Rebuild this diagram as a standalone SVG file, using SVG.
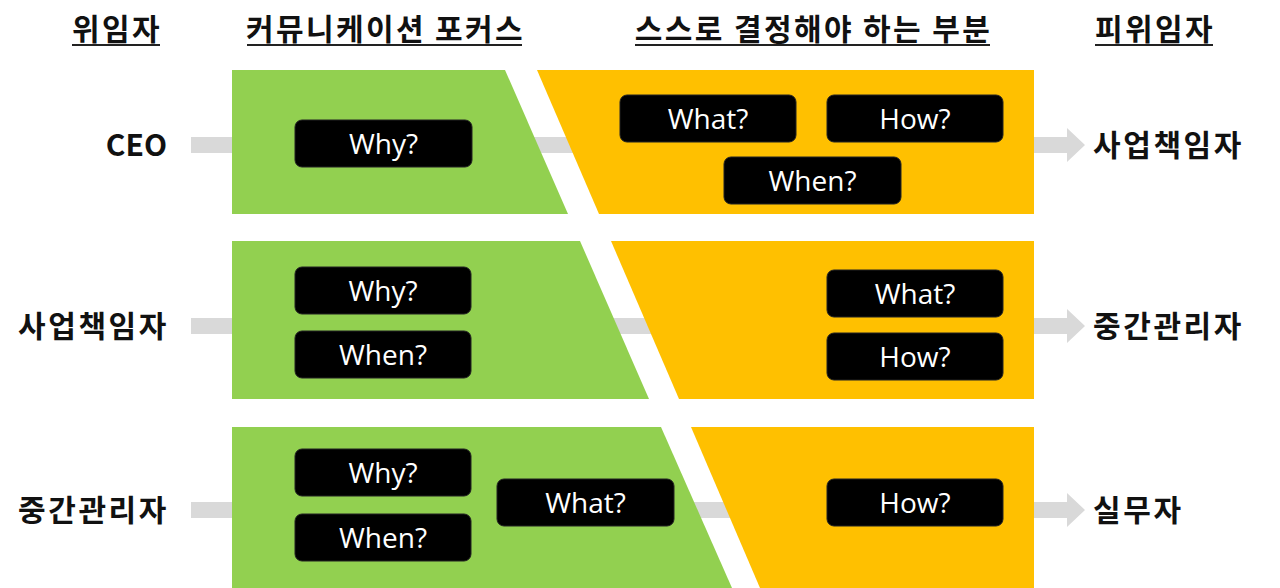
<svg xmlns="http://www.w3.org/2000/svg" width="1280" height="588" viewBox="0 0 1280 588">
<style>
.hd{font-family:"Noto Sans CJK KR","Noto Sans",sans-serif;font-weight:bold;font-size:30px;letter-spacing:2.4px;fill:#111;text-anchor:middle}
.ul{stroke:#222;stroke-width:2}
.lb{font-family:"Noto Sans CJK KR","Noto Sans",sans-serif;font-weight:bold;font-size:30px;fill:#111}
.k{letter-spacing:2.6px}
.l{text-anchor:end}
.g{fill:#92D050}
.o{fill:#FFC000}
.bx{fill:#000;stroke:#222;stroke-width:1}
.bt{font-family:"Open Sans","Noto Sans",sans-serif;font-size:28px;fill:#fff;text-anchor:middle}
.ar{fill:#D9D9D9}
</style>
<g id="headers">
<text class="hd" x="117" y="40">위임자</text><line class="ul" x1="72" y1="45" x2="160" y2="45"/>
<text class="hd" x="385.5" y="40">커뮤니케이션 포커스</text><line class="ul" x1="247" y1="45" x2="522" y2="45"/>
<text class="hd" x="813.5" y="40">스스로 결정해야 하는 부분</text><line class="ul" x1="635" y1="45" x2="990" y2="45"/>
<text class="hd" x="1155" y="40">피위임자</text><line class="ul" x1="1095" y1="45" x2="1213" y2="45"/>
</g>
<g id="connectors">
<polygon class="ar" points="191,137 1067,137 1067,128 1085,145 1067,162 1067,153 191,153"/>
<polygon class="ar" points="191,318 1067,318 1067,309 1085,326 1067,343 1067,334 191,334"/>
<polygon class="ar" points="191,502 1067,502 1067,493 1085,510 1067,527 1067,518 191,518"/>
</g>
<g id="bands">
<polygon class="g" points="232,70 505,70 568,214 232,214"/>
<polygon class="o" points="537,70 1034,70 1034,214 599,214"/>
<polygon class="g" points="232,241 580,241 649,399 232,399"/>
<polygon class="o" points="611,241 1034,241 1034,399 679,399"/>
<polygon class="g" points="232,427 661,427 732,588 232,588"/>
<polygon class="o" points="691,427 1034,427 1034,588 760,588"/>
</g>
<g id="left-labels">
<text class="lb l" x="167" y="156">CEO</text>
<text class="lb l k" x="169" y="337">사업책임자</text>
<text class="lb l k" x="169" y="521">중간관리자</text>
</g>
<g id="right-labels">
<text class="lb k" x="1093" y="156">사업책임자</text>
<text class="lb k" x="1093" y="337">중간관리자</text>
<text class="lb k" x="1093" y="521">실무자</text>
</g>
<g id="r1-why"><rect class="bx" x="295" y="120" width="177" height="47" rx="7"/><text class="bt" x="383.5" y="153.5">Why?</text></g>
<g id="r1-what"><rect class="bx" x="620" y="95" width="176" height="47" rx="7"/><text class="bt" x="708" y="128.5">What?</text></g>
<g id="r1-how"><rect class="bx" x="827" y="95" width="176" height="47" rx="7"/><text class="bt" x="915" y="128.5">How?</text></g>
<g id="r1-when"><rect class="bx" x="724" y="157" width="177" height="47" rx="7"/><text class="bt" x="812.5" y="190.5">When?</text></g>
<g id="r2-why"><rect class="bx" x="295" y="267" width="176" height="47" rx="7"/><text class="bt" x="383" y="300.5">Why?</text></g>
<g id="r2-when"><rect class="bx" x="295" y="331" width="176" height="47" rx="7"/><text class="bt" x="383" y="364.5">When?</text></g>
<g id="r2-what"><rect class="bx" x="827" y="270" width="176" height="47" rx="7"/><text class="bt" x="915" y="303.5">What?</text></g>
<g id="r2-how"><rect class="bx" x="827" y="333" width="176" height="47" rx="7"/><text class="bt" x="915" y="366.5">How?</text></g>
<g id="r3-why"><rect class="bx" x="295" y="449" width="176" height="47" rx="7"/><text class="bt" x="383" y="482.5">Why?</text></g>
<g id="r3-when"><rect class="bx" x="295" y="514" width="176" height="47" rx="7"/><text class="bt" x="383" y="547.5">When?</text></g>
<g id="r3-what"><rect class="bx" x="497" y="479" width="177" height="47" rx="7"/><text class="bt" x="585.5" y="512.5">What?</text></g>
<g id="r3-how"><rect class="bx" x="827" y="479" width="176" height="47" rx="7"/><text class="bt" x="915" y="512.5">How?</text></g>
</svg>
